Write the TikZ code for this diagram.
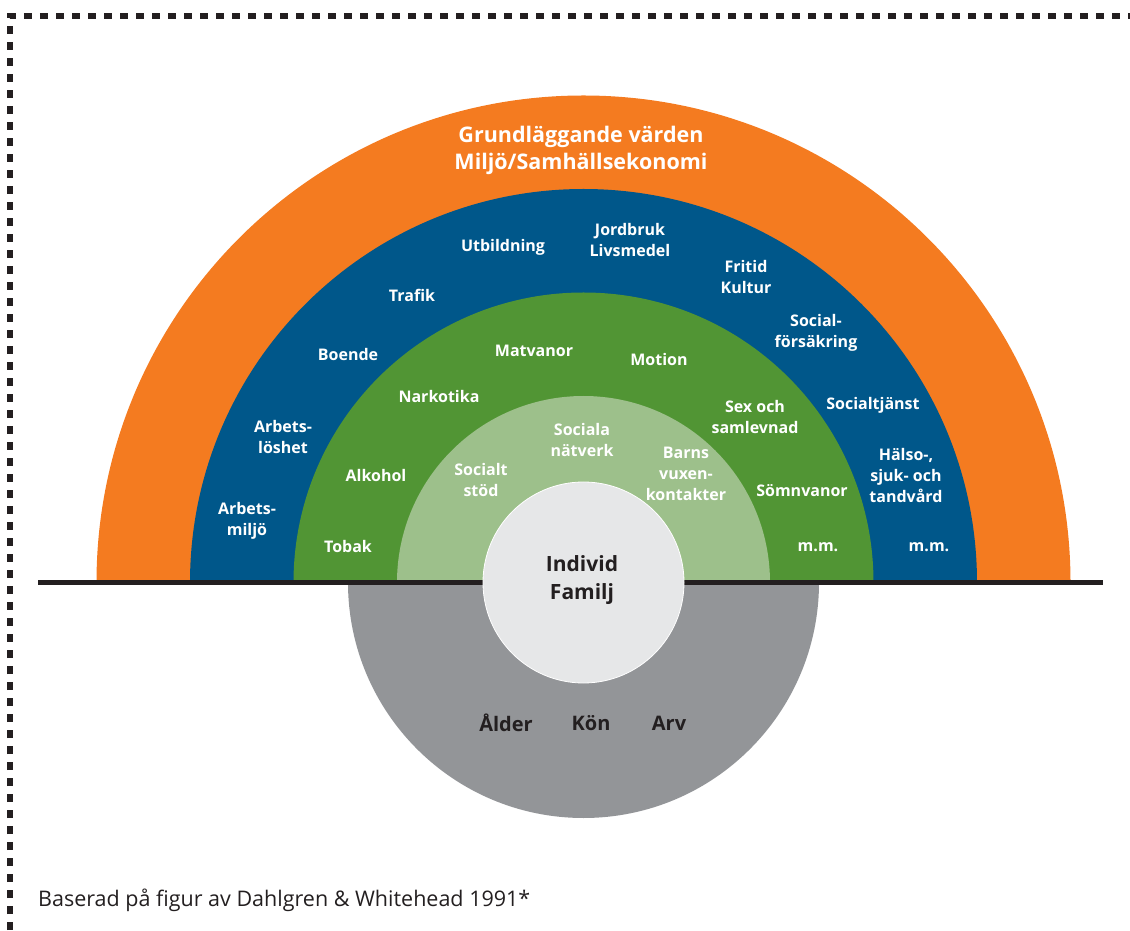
\documentclass[tikz,border=0pt]{standalone}
\usepackage{fontspec}
\setmainfont{Open Sans}
\definecolor{corange}{HTML}{F47B20}
\definecolor{cblue}{HTML}{00578A}
\definecolor{cgreen}{HTML}{519534}
\definecolor{clgreen}{HTML}{9DC08B}
\definecolor{cgray}{HTML}{939598}
\definecolor{cinner}{HTML}{E6E7E8}
\definecolor{cdark}{HTML}{231F20}
\tikzset{
  lbl/.style={text=white, font=\bfseries\fontsize{16}{21}\selectfont, align=center, inner sep=0pt},
  dlbl/.style={text=cdark, font=\bfseries\fontsize{20}{28}\selectfont, align=center, inner sep=0pt},
}
\begin{document}
\begin{tikzpicture}[x=1pt,y=1pt]
\useasboundingbox (0,0) rectangle (1130,930);
% border
\draw[line width=6pt, cdark, dash pattern=on 8pt off 8pt] (10,0) -- (10,914) -- (1130,914);
\coordinate (C) at (583.5,347.5);
% rings
\fill[corange] (C) ++(-487,0) arc (180:0:487) -- cycle;
\fill[cblue] (C) ++(-393.5,0) arc (180:0:393.5) -- cycle;
\fill[cgreen] (C) ++(-290,0) arc (180:0:290) -- cycle;
\fill[clgreen] (C) ++(-186.5,0) arc (180:0:186.5) -- cycle;
\fill[cgray] (C) ++(-235.5,0) arc (180:360:235.5) -- cycle;
\coordinate (bl) at (38,347.5);
\coordinate (br) at (1103,347.5);
\draw[line width=5pt, cdark] (bl) -- (br);
\node[circle, fill=cinner, draw=white, line width=0.8pt, minimum size=201pt, inner sep=0pt] (ind) at (C) {};
% texts
\node[lbl, font=\bfseries\fontsize{21.5}{27}\selectfont] (gv) at (581,780) {Grundläggande värden\\Miljö/Samhällsekonomi};
\node[lbl] (t1) at (247,409) {Arbets-\\miljö};
\node[lbl] (t2) at (283,493) {Arbets-\\löshet};
\node[lbl] (t3) at (348,575) {Boende};
\node[lbl] (t4) at (412,635) {Trafik};
\node[lbl] (t5) at (503,683) {Utbildning};
\node[lbl] (t6) at (630,690) {Jordbruk\\Livsmedel};
\node[lbl] (t7) at (746,653) {Fritid\\Kultur};
\node[lbl] (t8) at (816,597) {Social-\\försäkring};
\node[lbl] (t9) at (873,525) {Socialtjänst};
\node[lbl] (t10) at (906,454) {Hälso-,\\sjuk- och\\tandvård};
\node[lbl] (t11) at (929,383) {m.m.};
\node[lbl] (g1) at (348,383) {Tobak};
\node[lbl] (g2) at (376,454) {Alkohol};
\node[lbl] (g3) at (439,533) {Narkotika};
\node[lbl] (g4) at (534,579) {Matvanor};
\node[lbl] (g5) at (659,570) {Motion};
\node[lbl] (g6) at (755,513) {Sex och\\samlevnad};
\node[lbl] (g7) at (802,439) {Sömnvanor};
\node[lbl] (g8) at (818,383) {m.m.};
\node[lbl] (l1) at (481,450) {Socialt\\stöd};
\node[lbl] (l2) at (582,490) {Sociala\\nätverk};
\node[lbl] (l3) at (686,456) {Barns\\vuxen-\\kontakter};
\node[dlbl, font=\bfseries\fontsize{21}{28}\selectfont] (iv) at (582,350) {Individ\\Familj};
\node[dlbl] (a1) at (506,207) {Ålder};
\node[dlbl] (a2) at (591,207) {Kön};
\node[dlbl] (a3) at (669,207) {Arv};
\node[text=cdark, font=\fontsize{21.5}{25}\selectfont, anchor=west, inner sep=0pt] (ft) at (38,30) {Baserad på figur av Dahlgren \& Whitehead 1991*};
\end{tikzpicture}
\end{document}
